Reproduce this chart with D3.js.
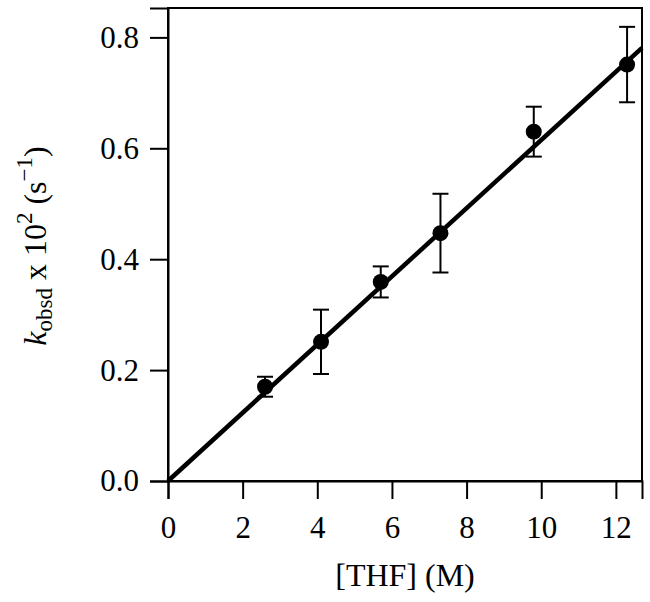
<!DOCTYPE html>
<html>
<head>
<meta charset="utf-8">
<script src="https://cdn.jsdelivr.net/npm/d3@7"></script>
<style>
  body { margin: 0; background: #fff; }
  svg text { font-family: "Liberation Serif", serif; }
</style>
</head>
<body>
<svg id="chart"></svg>
<script>
// data
const thf = [2.6, 4.1, 5.7, 7.3, 9.8, 12.3];
const kobs = [0.170, 0.251, 0.359, 0.447, 0.630, 0.751];
const kerr = [0.018, 0.058, 0.028, 0.071, 0.045, 0.068];
const fitSlope = 0.0615;
const xTicks = [0, 2, 4, 6, 8, 10, 12];
const yTicks = [0.0, 0.2, 0.4, 0.6, 0.8];

const width = 650, height = 602;
const margin = { top: 8, right: 8, bottom: 121, left: 168 };

const svg = d3.select("#chart")
    .attr("width", width)
    .attr("height", height);

const x = d3.scaleLinear().domain([0, 12.7]).range([margin.left, width - margin.right]);
const y = d3.scaleLinear().domain([0, 0.853]).range([height - margin.bottom, margin.top]);

// frame (top and right)
svg.append("rect")
    .attr("x", margin.left)
    .attr("y", margin.top)
    .attr("width", width - margin.left - margin.right)
    .attr("height", height - margin.top - margin.bottom)
    .attr("fill", "none")
    .attr("stroke", "#000")
    .attr("stroke-width", 2);

// axes
const xAxis = svg.append("g")
    .attr("transform", `translate(0,${height - margin.bottom})`)
    .call(d3.axisBottom(x).tickValues(xTicks).tickSize(18).tickPadding(17).tickFormat(d3.format("d")));

const yAxis = svg.append("g")
    .attr("transform", `translate(${margin.left},0)`)
    .call(d3.axisLeft(y).tickValues(yTicks).tickSize(18).tickPadding(11).tickFormat(d3.format(".1f")));

[xAxis, yAxis].forEach(g => {
    g.attr("font-family", null);
    g.select(".domain").attr("stroke-width", 2);
    g.selectAll(".tick line").attr("stroke-width", 2);
    g.selectAll(".tick text").style("font-size", "31px").attr("fill", "#000");
});

// fit line
svg.append("line")
    .attr("x1", x(0))
    .attr("y1", y(0))
    .attr("x2", x(12.7))
    .attr("y2", y(fitSlope * 12.7))
    .attr("stroke", "#000")
    .attr("stroke-width", 4.5);

// error bars
const pts = thf.map((d, i) => ({ x: d, y: kobs[i], e: kerr[i] }));
const eb = svg.append("g").attr("stroke", "#000").attr("stroke-width", 2);
pts.forEach(d => {
    eb.append("line").attr("x1", x(d.x)).attr("x2", x(d.x)).attr("y1", y(d.y - d.e)).attr("y2", y(d.y + d.e));
    eb.append("line").attr("x1", x(d.x) - 8).attr("x2", x(d.x) + 8).attr("y1", y(d.y - d.e)).attr("y2", y(d.y - d.e));
    eb.append("line").attr("x1", x(d.x) - 8).attr("x2", x(d.x) + 8).attr("y1", y(d.y + d.e)).attr("y2", y(d.y + d.e));
});

// points
svg.selectAll(".pt")
    .data(pts)
    .enter().append("circle")
    .attr("class", "pt")
    .attr("cx", d => x(d.x))
    .attr("cy", d => y(d.y))
    .attr("r", 8)
    .attr("fill", "#000");

// x label
svg.append("text")
    .attr("x", (margin.left + width - margin.right) / 2)
    .attr("y", 586)
    .attr("text-anchor", "middle")
    .style("font-size", "32px")
    .text("[THF] (M)");

// y label
const yl = svg.append("text")
    .attr("transform", "translate(46,246) rotate(-90)")
    .attr("text-anchor", "middle")
    .style("font-size", "32px");
yl.append("tspan").style("font-style", "italic").text("k");
yl.append("tspan").attr("dy", 6).style("font-size", "23px").text("obsd");
yl.append("tspan").attr("dy", -6).text(" x 10");
yl.append("tspan").attr("dy", -14).style("font-size", "23px").text("2");
yl.append("tspan").attr("dy", 14).text(" (s");
yl.append("tspan").attr("dy", -14).style("font-size", "23px").text("\u22121");
yl.append("tspan").attr("dy", 14).text(")");
</script>
</body>
</html>
